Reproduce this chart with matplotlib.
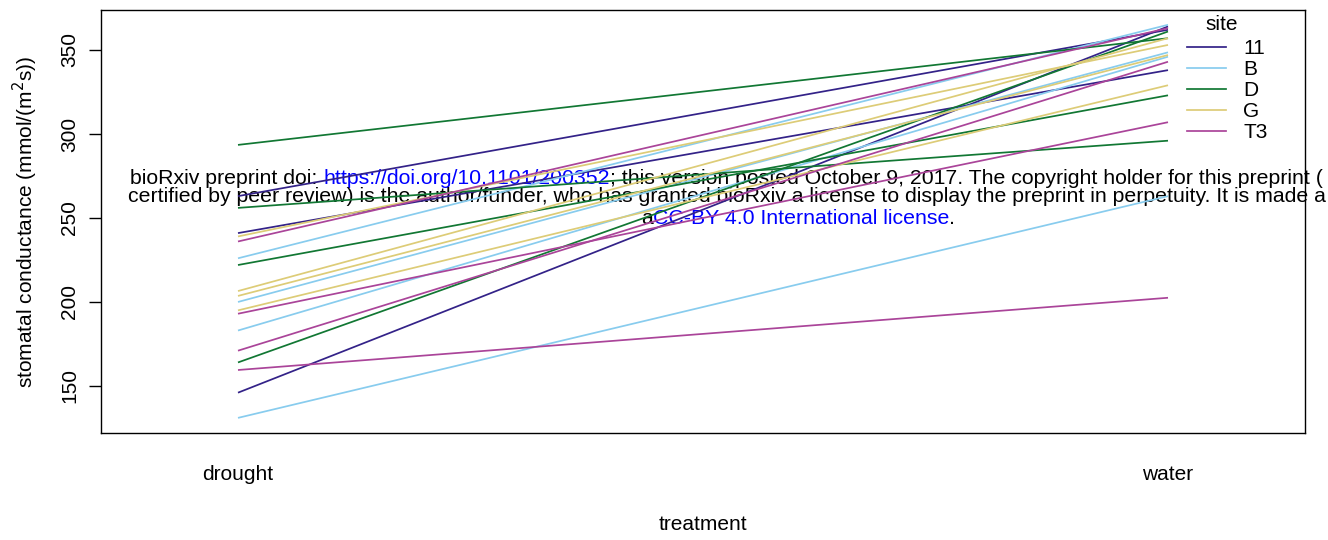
import matplotlib
matplotlib.use("Agg")
import matplotlib.pyplot as plt
from matplotlib.lines import Line2D

# ---- data -------------------------------------------------------------
treatment = ["drought", "water"]
sites = ["11", "B", "D", "G", "T3"]
site_colors = ["#332288", "#88CCEE", "#117733", "#DDCC77", "#AA4499"]

# one trace per plant: its site, and mean conductance under each treatment
plant_site = ["11", "11", "11",
              "B", "B", "B", "B",
              "D", "D", "D", "D",
              "G", "G", "G", "G",
              "T3", "T3", "T3", "T3"]
drought = [263.0, 241.0, 146.0,
           226.0, 200.0, 183.0, 131.0,
           293.5, 256.0, 222.0, 164.0,
           239.0, 206.5, 203.6, 195.0,
           236.0, 193.0, 171.0, 159.5]
water = [362.0, 338.0, 364.0,
         365.0, 348.6, 346.0, 263.0,
         357.0, 296.0, 323.0, 361.0,
         353.0, 357.0, 347.0, 329.0,
         363.0, 307.0, 343.0, 202.5]

yticks = [150, 200, 250, 300, 350]

# ---- figure -----------------------------------------------------------
plt.rcParams["font.family"] = ["Liberation Sans", "DejaVu Sans"]
FS = 15
LW = 1.25

W, H = 1328, 540
fig = plt.figure(figsize=(W / 100, H / 100), dpi=100)
ax = fig.add_axes([101 / W, 1 - 433 / H, (1305 - 101) / W, (433 - 10) / H])

color_of = dict(zip(sites, site_colors))
xpos = list(range(len(treatment)))
for s, d, w in zip(plant_site, drought, water):
    ax.plot(xpos, [d, w], color=color_of[s], lw=LW, zorder=2,
            solid_capstyle="butt")

ax.set_xlim(-0.1473, 1.1473)
ax.set_ylim(122.0, 373.8)

ax.set_xticks(xpos)
ax.set_xticklabels(treatment, fontsize=FS)
ax.tick_params(axis="x", length=0, pad=23)
ax.set_yticks(yticks)
ax.set_yticklabels([str(v) for v in yticks], fontsize=FS, rotation=90,
                   va="center")
ax.tick_params(axis="y", length=8.5, width=1, pad=7, direction="out")
for sp in ax.spines.values():
    sp.set_linewidth(1.0)

ax.set_xlabel("treatment", fontsize=FS, labelpad=22)
ax.set_ylabel("stomatal conductance (mmol/(m$^2$s))", fontsize=FS,
              labelpad=15)

# legend (title placed separately for R-like spacing)
handles = [Line2D([0], [0], color=c, lw=LW) for c in site_colors]
leg = ax.legend(handles, sites, fontsize=FS,
                frameon=False, loc="upper left",
                bbox_to_anchor=(1187 / W, 1 - 39 / H),
                bbox_transform=fig.transFigure,
                handlelength=1.85, handletextpad=0.85, labelspacing=0.1,
                borderpad=0, borderaxespad=0)
fig.text(1222 / W, 1 - 25 / H, "site", fontsize=FS, ha="center", va="center")

# ---- preprint banner, drawn beneath the traces ------------------------
BLUE = "#0000FF"
BFS = 15.3
banner = [
    (130, 178, [("bioRxiv preprint doi: ", "black"),
                ("https://doi.org/10.1101/200352", BLUE),
                ("; this version posted October 9, 2017. The copyright holder "
                 "for this preprint (", "black")]),
    (128, 196, [("certified by peer review) is the author/funder, who has "
                 "granted bioRxiv a license to display the preprint in "
                 "perpetuity. It is made a", "black")]),
    (641, 218, [("a", "black"),
                ("CC-BY 4.0 International license", BLUE),
                (".", "black")]),
]
fig.canvas.draw()
renderer = fig.canvas.get_renderer()
for x0, yc, pieces in banner:
    x = x0
    for txt, col in pieces:
        t = ax.text(x / W, 1 - yc / H, txt, transform=fig.transFigure,
                    fontsize=BFS, color=col, ha="left", va="center",
                    zorder=1, clip_on=False)
        x += t.get_window_extent(renderer).width

fig.savefig("out.png", dpi=100)
